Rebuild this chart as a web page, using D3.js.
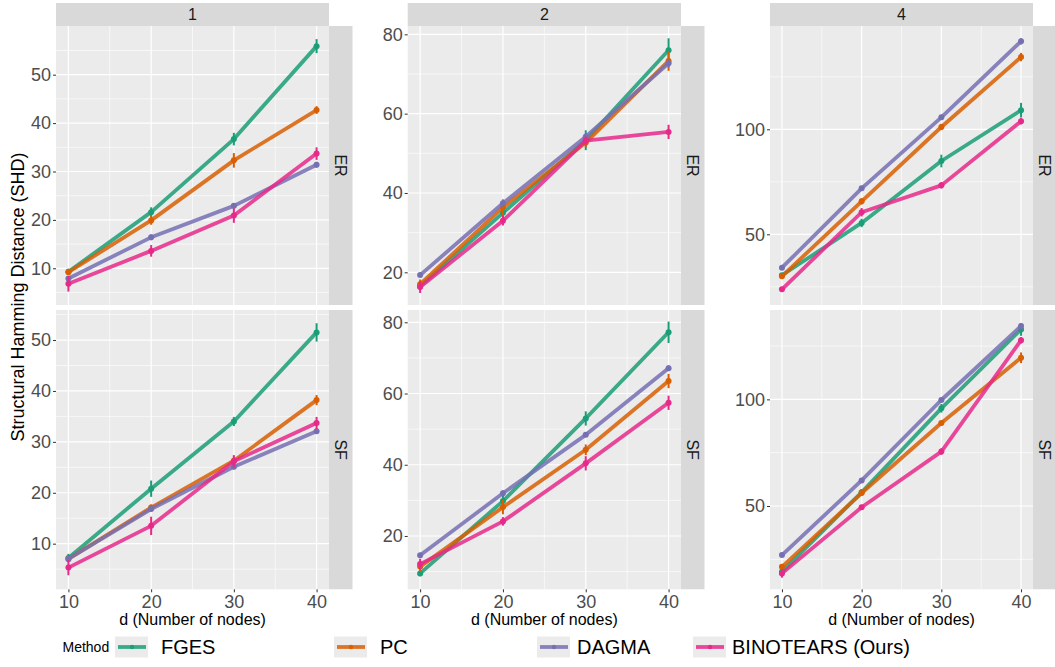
<!DOCTYPE html>
<meta charset="utf-8">
<style>
  body { margin: 0; background: #fff; }
  text { font-family: "Liberation Sans", Arial, sans-serif; }
  .tick-lab { fill: #4d4d4d; font-size: 18px; }
  .strip-lab { fill: #1a1a1a; font-size: 16px; }
</style>
<body>
<script src="https://d3js.org/d3.v7.min.js"></script>
<script>
// ---- data ----
var nodes = [10, 20, 30, 40];
var degrees = ["1", "2", "4"];
var graphs = ["ER", "SF"];
var methods = ["FGES", "PC", "DAGMA", "BINOTEARS (Ours)"];
var colors = ["#1B9E77", "#D95F02", "#7570B3", "#E7298A"];

// mean SHD per panel: ER-1, ER-2, ER-4, SF-1, SF-2, SF-4
var fgesMean = [[9.3, 21.6, 36.7, 55.9], [16.5, 35.0, 53.3, 76.0], [30.5, 55.4, 84.9, 109.1],
                [7.2, 20.8, 34.0, 51.5], [9.5, 29.8, 53.0, 77.2], [19.2, 56.4, 95.8, 132.8]];
var pcMean = [[9.2, 19.9, 32.3, 42.7], [17.0, 36.4, 52.7, 73.3], [30.0, 65.7, 101.1, 134.4],
              [7.0, 17.1, 26.3, 38.2], [11.4, 28.1, 44.2, 63.5], [21.5, 56.1, 88.9, 119.5]];
var dagmaMean = [[7.9, 16.4, 22.9, 31.4], [19.3, 37.4, 54.2, 72.7], [34.1, 71.9, 105.7, 141.9],
                 [7.0, 16.8, 25.1, 32.1], [14.6, 32.0, 48.4, 67.1], [27.0, 62.0, 99.7, 134.4]];
var binoMean = [[6.8, 13.6, 20.9, 33.7], [16.3, 33.0, 53.2, 55.4], [23.8, 60.5, 73.3, 103.8],
                [5.3, 13.5, 26.2, 33.7], [12.1, 24.1, 40.4, 57.4], [18.4, 49.4, 75.5, 127.7]];

// standard errors
var fgesErr = [[0.6, 1.0, 1.3, 1.45], [1.0, 2.5, 2.5, 3.0], [1.0, 2.0, 3.0, 3.5],
               [0.8, 1.6, 0.9, 1.8], [0.8, 2.0, 2.0, 3.0], [1.5, 1.5, 2.0, 3.0]];
var pcErr = [[0.5, 0.9, 1.5, 0.8], [1.2, 2.0, 1.2, 2.5], [1.0, 1.5, 1.5, 2.0],
             [0.6, 0.6, 0.8, 1.0], [1.5, 2.0, 1.5, 2.0], [1.0, 1.0, 1.0, 2.5]];
var dagmaErr = [[0.4, 0.6, 0.5, 0.6], [0.5, 0.8, 0.8, 1.0], [0.8, 1.0, 1.0, 1.5],
                [0.5, 0.5, 0.5, 0.5], [0.5, 0.8, 0.6, 0.8], [0.5, 0.5, 0.5, 1.0]];
var binoErr = [[1.6, 1.2, 1.5, 1.3], [1.5, 1.2, 1.0, 1.8], [1.0, 2.0, 1.5, 1.5],
               [1.5, 1.8, 1.2, 1.2], [1.5, 1.2, 2.0, 2.0], [2.0, 1.0, 1.5, 1.5]];

// y axis ticks and (free) ranges per panel
var yTicks = [[10, 20, 30, 40, 50], [20, 40, 60, 80], [50, 100],
              [10, 20, 30, 40, 50], [20, 40, 60, 80], [50, 100]];
var yDomains = [[2.42, 60.06], [11.76, 82.1], [16.33, 149.2],
                [1.04, 55.9], [5.03, 83.45], [10.95, 141.9]];

var means = [fgesMean, pcMean, dagmaMean, binoMean];
var errs = [fgesErr, pcErr, dagmaErr, binoErr];

// ---- layout ----
var W = 1055, H = 667;
var colX = [[56, 329], [407.7, 681], [770, 1033]];
var rowY = [[26, 305], [310, 589.3]];
var stripTop = 3, stripW = 23.5;

var svg = d3.select("body").append("svg")
  .attr("width", W).attr("height", H);

// x scale per column (ggplot expansion: 1.5 either side)
degrees.forEach(function(deg, c) {
  var x = d3.scaleLinear().domain([8.5, 41.5]).range(colX[c]);

  // top strip
  svg.append("rect")
    .attr("x", colX[c][0]).attr("y", stripTop)
    .attr("width", colX[c][1] - colX[c][0]).attr("height", rowY[0][0] - stripTop)
    .attr("fill", "#d9d9d9");
  svg.append("text").attr("class", "strip-lab")
    .attr("x", (colX[c][0] + colX[c][1]) / 2).attr("y", (stripTop + rowY[0][0]) / 2)
    .attr("text-anchor", "middle").attr("dominant-baseline", "central")
    .text(deg);

  graphs.forEach(function(g, r) {
    var p = r * 3 + c;
    var y = d3.scaleLinear().domain(yDomains[p]).range([rowY[r][1], rowY[r][0]]);
    var panel = svg.append("g");

    panel.append("rect")
      .attr("x", colX[c][0]).attr("y", rowY[r][0])
      .attr("width", colX[c][1] - colX[c][0]).attr("height", rowY[r][1] - rowY[r][0])
      .attr("fill", "#ebebeb");

    // minor grid
    var step = yTicks[p][1] - yTicks[p][0];
    var yMinor = d3.range(yTicks[p][0] - step * 1.5, yTicks[p][yTicks[p].length - 1] + step, step)
      .filter(function(v) { return v > yDomains[p][0] && v < yDomains[p][1]; });
    panel.selectAll(".ymin").data(yMinor).enter().append("line")
      .attr("x1", colX[c][0]).attr("x2", colX[c][1])
      .attr("y1", y).attr("y2", y)
      .attr("stroke", "#fff").attr("stroke-width", 0.6);
    panel.selectAll(".xmin").data([15, 25, 35]).enter().append("line")
      .attr("x1", x).attr("x2", x)
      .attr("y1", rowY[r][0]).attr("y2", rowY[r][1])
      .attr("stroke", "#fff").attr("stroke-width", 0.6);
    // major grid
    panel.selectAll(".ymaj").data(yTicks[p]).enter().append("line")
      .attr("x1", colX[c][0]).attr("x2", colX[c][1])
      .attr("y1", y).attr("y2", y)
      .attr("stroke", "#fff").attr("stroke-width", 1.2);
    panel.selectAll(".xmaj").data(nodes).enter().append("line")
      .attr("x1", x).attr("x2", x)
      .attr("y1", rowY[r][0]).attr("y2", rowY[r][1])
      .attr("stroke", "#fff").attr("stroke-width", 1.2);

    // y axis
    var yAxis = d3.axisLeft(y).tickValues(yTicks[p]).tickSize(3).tickPadding(2);
    var ga = svg.append("g").attr("transform", "translate(" + colX[c][0] + ",0)").call(yAxis);
    ga.select(".domain").remove();
    ga.selectAll(".tick line").attr("stroke", "#333");
    ga.selectAll(".tick text").attr("class", "tick-lab").attr("font-family", null).attr("font-size", null);

    // x axis on bottom row
    if (r === 1) {
      var xAxis = d3.axisBottom(x).tickValues(nodes).tickSize(3).tickPadding(3);
      var gx = svg.append("g").attr("transform", "translate(0," + rowY[r][1] + ")").call(xAxis);
      gx.select(".domain").remove();
      gx.selectAll(".tick line").attr("stroke", "#333");
      gx.selectAll(".tick text").attr("class", "tick-lab").attr("font-family", null).attr("font-size", null);
      svg.append("text")
        .attr("x", (colX[c][0] + colX[c][1]) / 2).attr("y", 625)
        .attr("text-anchor", "middle").attr("font-size", 16).attr("fill", "#000")
        .text("d (Number of nodes)");
    }

    // right strip
    svg.append("rect")
      .attr("x", colX[c][1]).attr("y", rowY[r][0])
      .attr("width", stripW).attr("height", rowY[r][1] - rowY[r][0])
      .attr("fill", "#d9d9d9");
    var sx = colX[c][1] + stripW / 2, sy = (rowY[r][0] + rowY[r][1]) / 2;
    svg.append("text").attr("class", "strip-lab")
      .attr("transform", "translate(" + sx + "," + sy + ") rotate(90)")
      .attr("text-anchor", "middle").attr("dominant-baseline", "central")
      .text(g);

    // series
    methods.forEach(function(m, k) {
      var pts = nodes.map(function(n, i) {
        return { n: n, v: means[k][p][i], e: errs[k][p][i] };
      });
      var line = d3.line().x(function(d) { return x(d.n); }).y(function(d) { return y(d.v); });
      panel.append("path").datum(pts)
        .attr("d", line).attr("fill", "none")
        .attr("stroke", colors[k]).attr("stroke-width", 3.8)
        .attr("stroke-opacity", 0.85).attr("stroke-linejoin", "round");
      panel.selectAll(".eb" + k).data(pts).enter().append("line")
        .attr("x1", function(d) { return x(d.n); }).attr("x2", function(d) { return x(d.n); })
        .attr("y1", function(d) { return y(d.v - d.e); }).attr("y2", function(d) { return y(d.v + d.e); })
        .attr("stroke", colors[k]).attr("stroke-width", 2);
      panel.selectAll(".pt" + k).data(pts).enter().append("circle")
        .attr("cx", function(d) { return x(d.n); }).attr("cy", function(d) { return y(d.v); })
        .attr("r", 3).attr("fill", colors[k]);
    });
  });
});

// y axis title
svg.append("text")
  .attr("transform", "translate(24,297) rotate(-90)")
  .attr("text-anchor", "middle").attr("font-size", 18).attr("fill", "#000")
  .text("Structural Hamming Distance (SHD)");

// legend
var legend = svg.append("g");
legend.append("text").attr("x", 62.5).attr("y", 652)
  .attr("font-size", 14).attr("fill", "#000").text("Method");
var keyX = [115, 334, 537, 693];
var labX = [161, 380, 577, 732];
methods.forEach(function(m, k) {
  legend.append("rect").attr("x", keyX[k]).attr("y", 636.5)
    .attr("width", 33).attr("height", 21).attr("fill", "#ebebeb");
  legend.append("line")
    .attr("x1", keyX[k] + 3).attr("x2", keyX[k] + 31)
    .attr("y1", 647).attr("y2", 647)
    .attr("stroke", colors[k]).attr("stroke-width", 3.8).attr("stroke-opacity", 0.85);
  legend.append("circle").attr("cx", keyX[k] + 17).attr("cy", 647).attr("r", 2.2)
    .attr("fill", colors[k]);
  legend.append("text").attr("x", labX[k]).attr("y", 654)
    .attr("font-size", 20).attr("fill", "#000").text(m);
});
</script>
</body>
